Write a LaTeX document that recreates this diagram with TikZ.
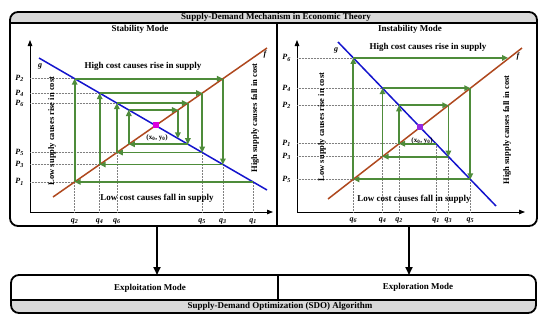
\documentclass[tikz,border=0pt]{standalone}
\usepackage{fontspec}
\setmainfont{Liberation Serif}
\usetikzlibrary{arrows.meta,calc}
\definecolor{cobgreen}{RGB}{78,140,58}
\definecolor{gblue}{RGB}{20,20,205}
\definecolor{fbrown}{RGB}{175,72,30}
\definecolor{eqmag}{RGB}{220,0,220}
\definecolor{eqpur}{RGB}{150,40,225}
\definecolor{bargray}{RGB}{217,217,217}
\tikzset{
  frame/.style={line width=1.8pt, rounded corners=8pt},
  sep/.style={line width=1.5pt},
  axisline/.style={line width=0.8pt, -{Triangle[length=6pt,width=4.5pt]}},
  gline/.style={draw=gblue, line width=1.5pt},
  fline/.style={draw=fbrown, line width=1.5pt},
  cob/.style={draw=cobgreen, line width=1.8pt, -{Triangle[length=6pt,width=5.5pt]}},
  gridl/.style={densely dotted, draw=gray, line width=0.5pt},
  lbl/.style={font=\fontsize{9}{10}\selectfont\bfseries, inner sep=0pt},
  sidelbl/.style={font=\fontsize{8.5}{10}\selectfont\bfseries, inner sep=0pt, rotate=90},
  axlbl/.style={font=\fontsize{8}{9}\selectfont\bfseries\itshape, inner sep=0pt},
  eqlbl/.style={font=\fontsize{7}{8}\selectfont\bfseries, inner sep=0pt},
  downarrow/.style={line width=1.8pt, -{Triangle[length=8pt,width=7pt]}}
}
\begin{document}
\begin{tikzpicture}[x=1pt,y=-1pt]
\useasboundingbox (0,0) rectangle (550,325);
\fill[white] (0,0) rectangle (550,325);

% ---------- top frame ----------
\begin{scope}
\clip[rounded corners=8pt] (10,12) rectangle (537,226);
\fill[bargray] (10,12) rectangle (537,23);
\end{scope}
\draw[frame] (10,12) rectangle (537,226);
\draw[sep] (10,23) -- (537,23);
\draw[sep] (277,23) -- (277,226);
\node[lbl] (title) at (276,17.5) {Supply-Demand Mechanism in Economic Theory};
\node[lbl] (stab) at (140,29) {Stability Mode};
\node[lbl] (instab) at (410,29) {Instability Mode};

% ---------- left panel ----------
\coordinate (LO) at (30,212);
\coordinate (LY) at (30,40);
\coordinate (LX) at (273,212);
\draw[axisline] (LO) -- (LY);
\draw[axisline] (LO) -- (LX);

\foreach \n/\x/\y in {0/253/181.9, 1/74.7/181.9, 2/74.7/78.7, 3/222.9/78.7, 4/222.9/164.5,
  5/99.7/164.5, 6/99.7/93.1, 7/202.2/93.1, 8/202.2/152.5, 9/116.9/152.5, 10/116.9/103.1,
  11/187.9/103.1, 12/187.9/144.2, 13/128.8/144.2, 14/128.8/110.0, 15/177.9/110.0, 16/177.9/138.4}
  \coordinate (L\n) at (\x,\y);

% grid lines
\foreach \p in {1,2,5,6,9,10} \draw[gridl] (LO |- L\p) -- (L\p);
\foreach \p in {0,1,4,5,8,9} \draw[gridl] (L\p |- LO) -- (L\p);

\coordinate (Lg1) at (39,58);  \coordinate (Lg2) at (267,190);
\coordinate (Lf1) at (53,197); \coordinate (Lf2) at (267,48);
\draw[gline] (Lg1) -- (Lg2);
\draw[fline] (Lf1) -- (Lf2);

\foreach \a [count=\b] in {0,...,15} \draw[cob] (L\a) -- (L\b);

\node[fill=eqmag, minimum size=6pt, inner sep=0pt] (Leq) at (155.7,125.1) {};
\node[eqlbl] (Leqlbl) at (157,138) {(x\textsubscript{0}, y\textsubscript{0})};

\node[axlbl] (Lg) at (40,66) {g};
\node[axlbl] (Lf) at (265,55) {f};

\foreach \p/\n in {1/1, 2/2, 5/3, 6/4, 9/5, 10/6}
  \node[axlbl, anchor=east] (LP\n) at ($(LO |- L\p) + (-6,0)$) {P\textsubscript{\n}};
\foreach \p/\n in {0/1, 1/2, 4/3, 5/4, 8/5, 9/6}
  \node[axlbl] (Lq\n) at ($(L\p |- LO) + (0,9)$) {q\textsubscript{\n}};

\node[lbl] (Lhigh) at (143,66.5) {High cost causes rise in supply};
\node[lbl] (Llow) at (157,198.5) {Low cost causes fall in supply};
\node[sidelbl] (Lside1) at (52,131) {Low supply causes rise in cost};
\node[sidelbl] (Lside2) at (255,118) {High supply causes fall in cost};

% ---------- right panel ----------
\coordinate (RO) at (297,212);
\coordinate (RY) at (297,40);
\coordinate (RX) at (525,212);
\draw[axisline] (RO) -- (RY);
\draw[axisline] (RO) -- (RX);

\foreach \n/\x/\y in {0/436/143.7, 1/399.0/143.7, 2/399.0/105.3, 3/448.4/105.3, 4/448.4/156.6,
  5/382.5/156.6, 6/382.5/88.2, 7/470.3/88.2, 8/470.3/179.3, 9/353.3/179.3, 10/353.3/57.9, 11/508/57.9}
  \coordinate (R\n) at (\x,\y);

\foreach \p in {1,2,5,6,9,10} \draw[gridl] (RO |- R\p) -- (R\p);
\foreach \p in {0,1,4,5,8,9} \draw[gridl] (R\p |- RO) -- (R\p);

\coordinate (Rg1) at (338,42);  \coordinate (Rg2) at (496,206);
\coordinate (Rf1) at (328,199); \coordinate (Rf2) at (522,48);
\draw[gline] (Rg1) -- (Rg2);
\draw[fline] (Rf1) -- (Rf2);

\foreach \a [count=\b] in {0,...,10} \draw[cob] (R\a) -- (R\b);

\node[fill=eqpur, minimum size=6pt, inner sep=0pt] (Req) at (420.1,127.2) {};
\node[eqlbl] (Reqlbl) at (422,141) {(x\textsubscript{0}, y\textsubscript{0})};

\node[axlbl] (Rg) at (336,50) {g};
\node[axlbl] (Rf) at (518,57) {f};

\foreach \p/\n in {1/1, 2/2, 5/3, 6/4, 9/5, 10/6}
  \node[axlbl, anchor=east] (RP\n) at ($(RO |- R\p) + (-6,0)$) {P\textsubscript{\n}};
\foreach \p/\n in {0/1, 1/2, 4/3, 5/4, 8/5, 9/6}
  \node[axlbl] (Rq\n) at ($(R\p |- RO) + (0,8)$) {q\textsubscript{\n}};

\node[lbl] (Rhigh) at (428,47.5) {High cost causes rise in supply};
\node[lbl] (Rlow) at (414,199) {Low cost causes fall in supply};
\node[sidelbl] (Rside1) at (322,127) {Low supply causes rise in cost};
\node[sidelbl] (Rside2) at (507,130) {High supply causes fall in cost};

% ---------- bottom frame ----------
\begin{scope}
\clip[rounded corners=8pt] (11,275) rectangle (536,313);
\fill[bargray] (11,300) rectangle (536,313);
\end{scope}
\draw[frame] (11,275) rectangle (536,313);
\draw[sep] (11,300) -- (536,300);
\draw[sep] (278,275) -- (278,300);
\node[lbl] (exploit) at (150,288) {Exploitation Mode};
\node[lbl] (explore) at (418,287) {Exploration Mode};
\node[lbl] (sdo) at (280,306.5) {Supply-Demand Optimization (SDO) Algorithm};

\coordinate (A1) at (157,226); \coordinate (B1) at (157,275);
\coordinate (A2) at (409,226); \coordinate (B2) at (409,275);
\draw[downarrow] (A1) -- (B1);
\draw[downarrow] (A2) -- (B2);
\end{tikzpicture}
\end{document}
